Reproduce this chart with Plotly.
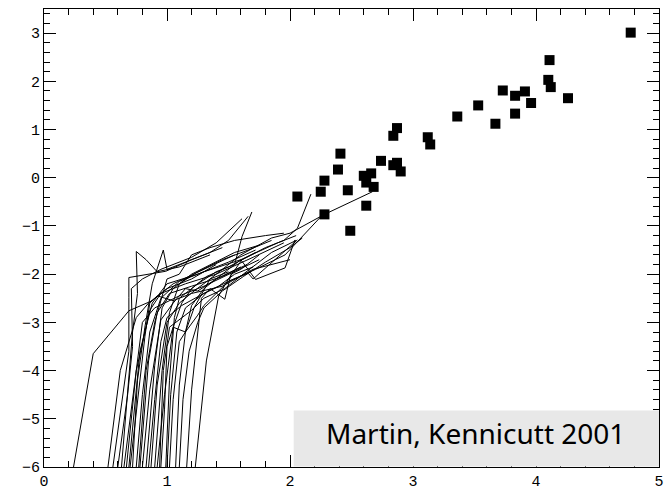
import plotly.graph_objects as go

# Scatter points (galaxies)
pts_x = [2.06, 2.25, 2.28, 2.28, 2.39, 2.41, 2.47, 2.49, 2.60, 2.66, 2.62, 2.68, 2.62,
         2.74, 2.87, 2.84, 2.87, 2.84, 2.90, 3.12, 3.14, 3.36, 3.53, 3.67, 3.73, 3.83,
         3.83, 3.91, 3.96, 4.10, 4.11, 4.12, 4.26, 4.77]
pts_y = [-0.39, -0.29, -0.06, -0.76, 0.17, 0.50, -0.26, -1.10, 0.04, 0.09, -0.10, -0.19, -0.58,
         0.35, 1.03, 0.87, 0.31, 0.26, 0.13, 0.84, 0.69, 1.27, 1.50, 1.12, 1.81, 1.70,
         1.33, 1.79, 1.55, 2.03, 2.44, 1.88, 1.65, 3.01]

# Radial profiles (tracks)
t01_x = [0.24, 0.40, 0.69, 0.88, 1.05, 1.30, 1.55]
t01_y = [-6.0, -3.65, -2.76, -2.55, -2.20, -1.90, -1.60]
t02_x = [0.52, 0.62, 0.75, 0.85, 1.00, 1.20, 1.40]
t02_y = [-6.0, -4.0, -2.9, -2.6, -2.3, -2.1, -1.8]
t03_x = [0.56, 0.69, 0.69, 0.69, 0.99, 1.20, 1.45]
t03_y = [-6.0, -3.6, -2.48, -2.07, -1.94, -1.70, -1.45]
t04_x = [0.63, 0.72, 0.76, 0.75, 0.83, 0.92, 1.10, 1.35]
t04_y = [-6.0, -3.2, -2.4, -1.53, -1.70, -1.95, -1.85, -1.60]
t05_x = [0.65, 0.74, 0.80, 0.90, 1.10, 1.30, 1.55, 1.75]
t05_y = [-6.0, -4.2, -3.0, -2.7, -2.45, -2.25, -1.95, -1.70]
t06_x = [0.67, 0.75, 0.86, 0.95, 1.15, 1.40, 1.70, 1.95]
t06_y = [-6.0, -4.0, -2.75, -2.4, -2.2, -2.0, -1.65, -1.35]
t07_x = [0.69, 0.78, 0.88, 1.00, 1.25, 1.50, 1.72]
t07_y = [-6.0, -3.6, -2.6, -2.2, -2.0, -1.75, -1.50]
t08_x = [0.75, 0.80, 0.86, 0.95, 1.10, 1.30, 1.60, 1.90, 2.05]
t08_y = [-6.0, -4.5, -3.2, -2.5, -2.15, -1.95, -1.70, -1.35, -1.20]
t09_x = [0.78, 0.85, 0.92, 1.02, 1.20, 1.45, 1.65]
t09_y = [-6.0, -3.8, -2.8, -2.4, -2.25, -2.05, -1.80]
t10_x = [0.80, 0.86, 0.95, 1.05, 1.15, 1.25, 1.40, 1.60]
t10_y = [-6.0, -4.4, -2.95, -2.6, -2.3, -2.35, -2.1, -1.85]
t11_x = [0.83, 0.90, 0.96, 1.05, 1.20, 1.35, 1.55, 1.75]
t11_y = [-6.0, -3.9, -2.7, -2.3, -2.0, -1.8, -1.55, -1.40]
t12_x = [0.87, 0.92, 1.00, 1.10, 1.22, 1.35, 1.50]
t12_y = [-6.0, -4.3, -3.0, -2.6, -2.35, -2.1, -1.95]
t13_x = [0.90, 0.96, 1.02, 1.10, 1.25, 1.45, 1.66, 1.85]
t13_y = [-6.0, -4.0, -2.8, -2.2, -1.95, -1.70, -1.50, -1.30]
t14_x = [0.92, 0.98, 1.05, 1.12, 1.20, 1.32, 1.50, 1.72]
t14_y = [-6.0, -4.5, -3.1, -2.6, -2.3, -2.05, -1.85, -1.55]
t15_x = [0.99, 1.02, 1.06, 1.10, 1.25, 1.40, 1.55, 1.61, 1.69]
t15_y = [-6.0, -4.2, -2.9, -2.5, -2.2, -1.95, -1.80, -1.22, -0.71]
t16_x = [1.00, 1.03, 1.08, 1.15, 1.30, 1.42, 1.55, 1.70]
t16_y = [-6.0, -4.5, -3.2, -2.7, -2.4, -2.25, -2.0, -1.85]
t17_x = [1.02, 1.05, 1.10, 1.15, 1.25, 1.30, 1.40, 1.50, 1.66, 1.70, 2.06]
t17_y = [-6.0, -4.6, -3.4, -3.2, -2.85, -2.65, -2.4, -2.15, -1.98, -2.10, -1.29]
t18_x = [1.07, 1.10, 1.15, 1.20, 1.30, 1.45, 1.60, 1.72, 1.96, 2.04]
t18_y = [-6.0, -4.3, -3.2, -2.65, -2.3, -2.0, -1.7, -2.11, -1.87, -1.29]
t19_x = [1.16, 1.20, 1.28, 1.35, 1.47, 1.52, 1.60, 1.75]
t19_y = [-6.0, -4.4, -2.5, -2.3, -2.52, -2.0, -1.9, -1.6]
t20_x = [1.23, 1.32, 1.42, 1.50, 1.61, 1.80, 1.95, 2.06, 2.17]
t20_y = [-6.0, -3.8, -2.45, -2.1, -1.70, -1.45, -1.30, -1.05, -0.34]
t21_x = [0.60, 0.68, 0.72, 0.71, 0.80, 0.95, 1.20, 1.40, 1.61]
t21_y = [-6.0, -4.5, -3.5, -2.3, -2.1, -1.9, -1.65, -1.35, -0.85]
t22_x = [0.72, 0.76, 0.82, 0.88, 0.97, 1.00, 1.15, 1.35, 1.50, 1.66]
t22_y = [-6.0, -4.2, -3.1, -2.2, -1.5, -1.9, -1.75, -1.55, -1.30, -0.80]
t23_x = [0.95, 0.98, 1.00, 1.05, 1.15, 1.22, 1.35, 1.60, 1.85, 2.00, 2.28, 2.67]
t23_y = [-6.0, -4.8, -3.5, -3.1, -3.2, -2.7, -2.1, -1.6, -1.25, -1.15, -0.76, -0.29]
t24_x = [0.85, 0.90, 0.95, 1.00, 1.12, 1.30, 1.50, 1.72, 1.96, 2.25]
t24_y = [-6.0, -4.6, -3.4, -2.9, -2.65, -2.4, -2.15, -1.90, -1.60, -0.81]
t25_x = [1.10, 1.13, 1.18, 1.25, 1.30, 1.45, 1.62, 1.80, 2.00, 2.10]
t25_y = [-6.0, -4.6, -3.6, -3.0, -2.7, -2.35, -2.05, -1.75, -1.45, -1.25]
t26_x = [0.77, 0.83, 0.90, 1.00, 1.10, 1.20, 1.35, 1.55, 1.80, 1.95]
t26_y = [-6.0, -4.0, -3.0, -2.1, -2.0, -1.6, -1.45, -1.30, -1.20, -1.15]
t27_x = [0.70, 0.76, 0.82, 0.86, 0.92, 1.05, 1.20, 1.45, 1.70, 2.00]
t27_y = [-6.0, -4.6, -3.3, -2.6, -2.45, -2.55, -2.4, -2.25, -1.9, -1.7]
t28_x = [0.94, 0.97, 1.02, 1.10, 1.20, 1.30, 1.47, 1.62, 1.85, 2.05]
t28_y = [-6.0, -4.0, -3.1, -2.95, -2.75, -2.5, -2.3, -2.0, -1.55, -1.3]

tracks = [
    (t01_x, t01_y), (t02_x, t02_y), (t03_x, t03_y), (t04_x, t04_y), (t05_x, t05_y),
    (t06_x, t06_y), (t07_x, t07_y), (t08_x, t08_y), (t09_x, t09_y), (t10_x, t10_y),
    (t11_x, t11_y), (t12_x, t12_y), (t13_x, t13_y), (t14_x, t14_y), (t15_x, t15_y),
    (t16_x, t16_y), (t17_x, t17_y), (t18_x, t18_y), (t19_x, t19_y), (t20_x, t20_y),
    (t21_x, t21_y), (t22_x, t22_y), (t23_x, t23_y), (t24_x, t24_y), (t25_x, t25_y),
    (t26_x, t26_y), (t27_x, t27_y), (t28_x, t28_y),
]

x_range = [0, 5]
y_range = [-6, 3.5]
label_text = "Martin, Kennicutt 2001"

fig = go.Figure()
for tx, ty in tracks:
    fig.add_trace(go.Scatter(x=tx, y=ty, mode="lines",
                             line=dict(color="black", width=1),
                             hoverinfo="skip", showlegend=False))

fig.add_trace(go.Scatter(x=pts_x, y=pts_y, mode="markers",
                         marker=dict(symbol="square", size=10, color="black",
                                     line=dict(width=0)),
                         showlegend=False))

# invisible trace to activate the mirrored (top/right) tick axes
fig.add_trace(go.Scatter(x=x_range, y=y_range, mode="markers", xaxis="x2", yaxis="y2",
                         marker=dict(opacity=0), hoverinfo="skip", showlegend=False))

tick_style = dict(
    showgrid=False, zeroline=False, showline=True, linecolor="black", linewidth=1,
    ticks="inside", ticklen=12, tickwidth=1, tickcolor="black",
    minor=dict(ticks="inside", ticklen=6, tickwidth=1, tickcolor="black", dtick=0.2),
    dtick=1, tick0=0,
)
font_ticks = dict(family="Liberation Mono", size=15, color="black")

fig.update_layout(
    width=669, height=496,
    margin=dict(l=44, r=5, t=9, b=23),
    paper_bgcolor="white", plot_bgcolor="white",
    xaxis=dict(range=x_range, tickfont=font_ticks, **tick_style),
    yaxis=dict(range=y_range, tickfont=font_ticks, **tick_style),
    xaxis2=dict(range=x_range, overlaying="x", side="top", anchor="y",
                showticklabels=False, **tick_style),
    yaxis2=dict(range=y_range, overlaying="y", side="right", anchor="x",
                showticklabels=False, **tick_style),
)

fig.add_shape(type="rect", xref="x", yref="y", x0=2.03, x1=5.1, y0=-5.99, y1=-4.83,
              fillcolor="#e8e8e8", line=dict(width=0), layer="above")

fig.add_annotation(x=3.51, y=-5.30, xref="x", yref="y", text=label_text,
                   showarrow=False,
                   font=dict(family="Noto Sans", size=28, color="black"))

fig.write_html("out.html")
